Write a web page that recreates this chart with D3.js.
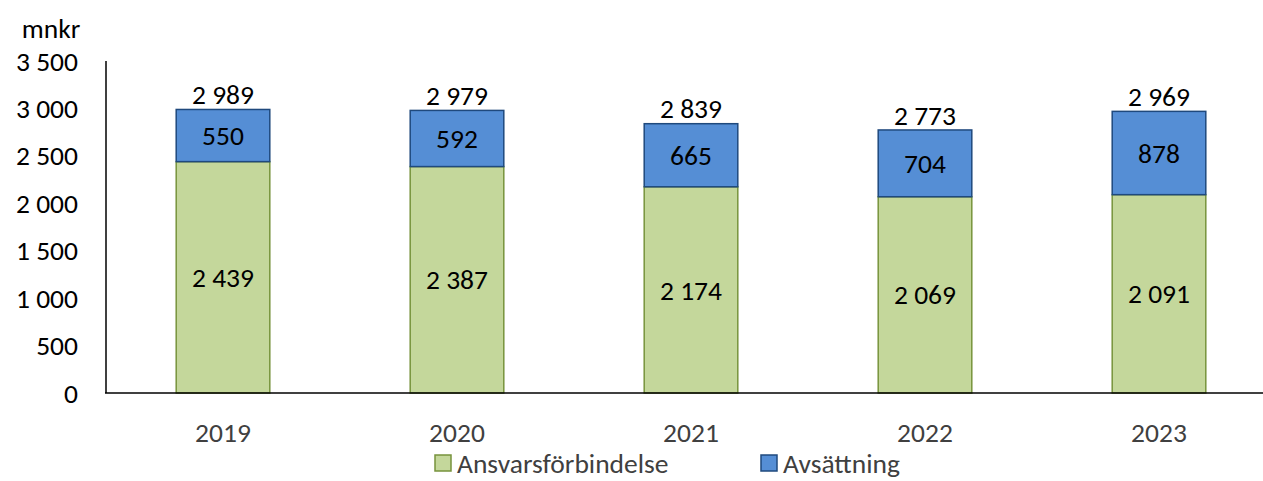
<!DOCTYPE html>
<html><head><meta charset="utf-8">
<script src="https://cdn.jsdelivr.net/npm/d3@7"></script>
<style>body{margin:0;background:#fff;} svg{display:block;font-family:Carlito,Lato,"Open Sans",sans-serif;}</style>
</head><body>
<svg id="c" width="1263" height="481"></svg>
<script>
const years = ["2019","2020","2021","2022","2023"];
const ansvar = [2439, 2387, 2174, 2069, 2091];
const avsatt = [550, 592, 665, 704, 878];
const totals = [2989, 2979, 2839, 2773, 2969];
const yTicks = [0, 500, 1000, 1500, 2000, 2500, 3000, 3500];
const seriesNames = ["Ansvarsförbindelse", "Avsättning"];

const svg = d3.select("#c");
const x = d3.scaleBand().domain(years).range([106, 1276]).paddingInner(0.6).paddingOuter(0.3);
const y = d3.scaleLinear().domain([0, 3500]).range([393, 61]);
const fmt = v => d3.format(",")(v).replace(/,/g, " ");
const FS = 27.5;

const colors = [{fill:"#C4D79B", stroke:"#77933C"}, {fill:"#558ED5", stroke:"#1F497D"}];

// y tick labels
svg.append("g").selectAll("text").data(yTicks).join("text")
  .attr("x", 78).attr("y", d => y(d)).attr("dy", "0.35em")
  .attr("text-anchor", "end").attr("font-size", FS).attr("fill", "#000")
  .text(fmt);

svg.append("text").attr("x", 51).attr("y", 28).attr("dy", "0.35em")
  .attr("text-anchor", "middle").attr("font-size", FS).attr("fill", "#000").text("mnkr");

// bars
const g = svg.append("g");
years.forEach((yr, i) => {
  const bx = x(yr), bw = x.bandwidth();
  g.append("rect").attr("x", bx).attr("y", y(ansvar[i])).attr("width", bw)
    .attr("height", y(0) - y(ansvar[i]))
    .attr("fill", colors[0].fill).attr("stroke", colors[0].stroke).attr("stroke-width", 1.5);
  g.append("rect").attr("x", bx).attr("y", y(ansvar[i] + avsatt[i])).attr("width", bw)
    .attr("height", y(ansvar[i]) - y(ansvar[i] + avsatt[i]))
    .attr("fill", colors[1].fill).attr("stroke", colors[1].stroke).attr("stroke-width", 1.5);
  const cx = bx + bw / 2;
  g.append("text").attr("x", cx).attr("y", (y(0) + y(ansvar[i])) / 2).attr("dy", "0.35em")
    .attr("text-anchor", "middle").attr("font-size", FS).text(fmt(ansvar[i]));
  g.append("text").attr("x", cx).attr("y", (y(ansvar[i]) + y(ansvar[i] + avsatt[i])) / 2).attr("dy", "0.35em")
    .attr("text-anchor", "middle").attr("font-size", FS).text(fmt(avsatt[i]));
  g.append("text").attr("x", cx).attr("y", y(totals[i]) - 15).attr("dy", "0.35em")
    .attr("text-anchor", "middle").attr("font-size", FS).text(fmt(totals[i]));
});

// axes lines
svg.append("line").attr("x1", 106).attr("x2", 106).attr("y1", 61).attr("y2", 393)
  .attr("stroke", "#000").attr("stroke-width", 1.5);
svg.append("line").attr("x1", 105).attr("x2", 1263).attr("y1", 393).attr("y2", 393)
  .attr("stroke", "#000").attr("stroke-width", 1.5);

// x labels
svg.append("g").selectAll("text").data(years).join("text")
  .attr("x", d => x(d) + x.bandwidth() / 2).attr("y", 432).attr("dy", "0.35em")
  .attr("text-anchor", "middle").attr("font-size", FS).attr("fill", "#404040").text(d => d);

// legend
const legX = [435, 761];
seriesNames.forEach((n, i) => {
  svg.append("rect").attr("x", legX[i]).attr("y", 455).attr("width", 16).attr("height", 16)
    .attr("fill", colors[i].fill).attr("stroke", colors[i].stroke).attr("stroke-width", 1.5);
  svg.append("text").attr("x", legX[i] + 22).attr("y", 463).attr("dy", "0.35em")
    .attr("font-size", FS).attr("fill", "#404040").text(n);
});
</script>
</body></html>
